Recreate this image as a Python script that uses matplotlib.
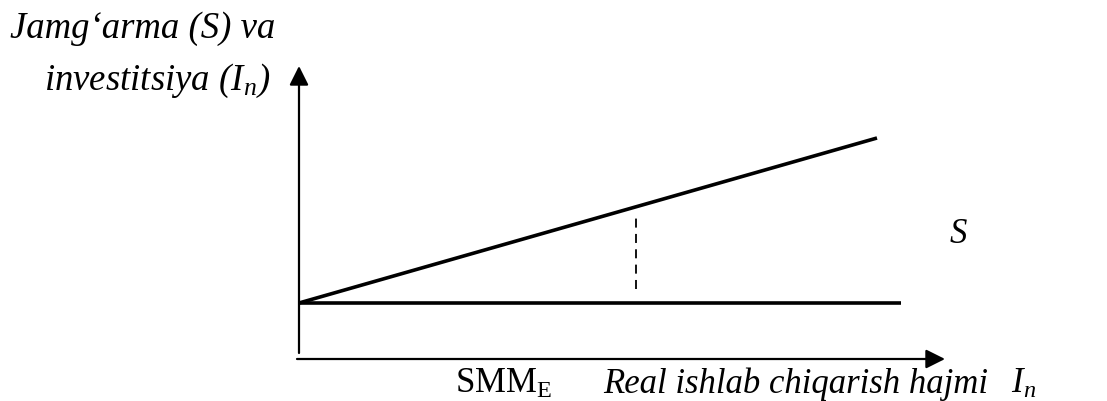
import numpy as np
import matplotlib
matplotlib.use("Agg")
import matplotlib.pyplot as plt

plt.rcParams['font.family'] = ['Liberation Serif', 'DejaVu Serif']
plt.rcParams['mathtext.fontset'] = 'custom'
plt.rcParams['mathtext.rm'] = 'Liberation Serif'
plt.rcParams['mathtext.it'] = 'Liberation Serif:italic'

# diagram values (1 unit = 100 px, origin at the axes corner)
invest_level = 0.56
invest_x = [0.0, 6.02]
saving_x = [0.0, 5.78]
saving_y = [0.56, 2.21]
smm_x = 3.37
dash_y = [0.70, 1.41]

x_axis_end = 6.46
y_axis_end = 2.93

fig = plt.figure(figsize=(11.07, 4.01), dpi=100)
ax = fig.add_axes([0, 0, 1, 1])
ax.set_xlim(-2.99, 8.08)
ax.set_ylim(-0.42, 3.59)
ax.axis('off')

# axes with arrows
arrow = dict(arrowstyle='-|>,head_length=0.4,head_width=0.2', color='black',
             lw=1.6, mutation_scale=29, shrinkA=0, shrinkB=0)
ax.annotate('', xy=(x_axis_end, 0), xytext=(-0.02, 0), arrowprops=arrow)
ax.annotate('', xy=(0, y_axis_end), xytext=(0, 0.06), arrowprops=arrow)

# investment line and savings line
ax.plot(invest_x, [invest_level, invest_level], color='black', lw=2.6,
        solid_capstyle='butt')
ax.plot(saving_x, saving_y, color='black', lw=2.6, solid_capstyle='butt')
ax.plot([smm_x, smm_x], dash_y, color='black', lw=1.3, linestyle=(0, (5, 3.5)))

fs = 25
it = dict(fontsize=fs, fontstyle='italic', va='baseline', ha='left')
top = dict(it, fontsize=26.5)
ax.text(-2.89, 3.21, 'Jamg\u2018arma (S) va', **top)
ax.text(-2.55, 2.69, 'investitsiya (I$_n$)', **top)
ax.text(6.51, 1.16, 'S', **it)
ax.text(1.56, -0.34, 'SMM$_{\\mathrm{E}}$', fontsize=fs, va='baseline', ha='left')
ax.text(3.04, -0.34, 'Real ishlab chiqarish hajmi', **it)
ax.text(7.12, -0.34, 'I$_n$', **it)

fig.savefig('out.png', dpi=100)
